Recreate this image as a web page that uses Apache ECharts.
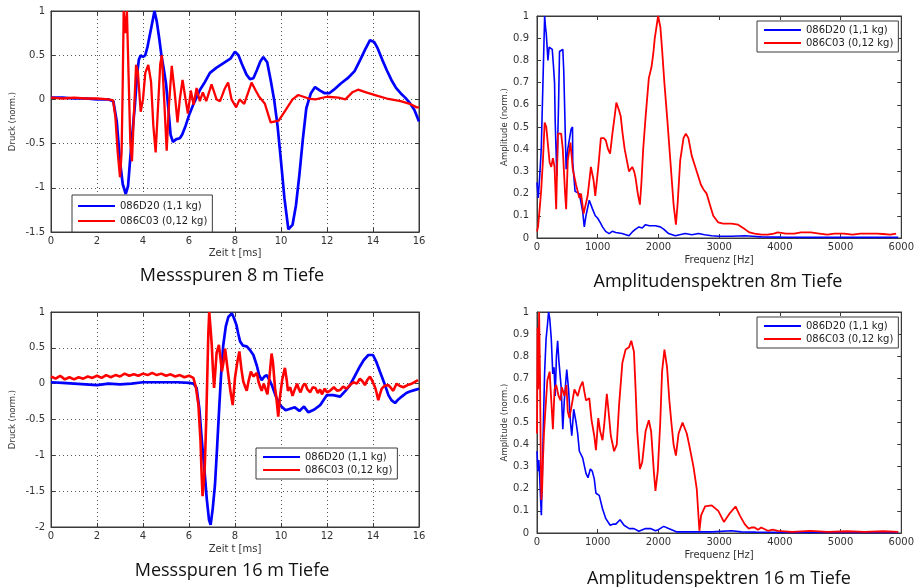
<!DOCTYPE html>
<html>
<head>
<meta charset="utf-8">
<script src="https://cdn.jsdelivr.net/npm/echarts@6/dist/echarts.min.js"></script>
<style>html,body{margin:0;padding:0;background:#fff}#c{width:917px;height:587px}</style>
</head>
<body>
<div id="c"></div>
<script>
// ---------- DATA ----------
const seriesNames = ['086D20 (1,1 kg)', '086C03 (0,12 kg)'];
const panelTitles = ['Messspuren 8 m Tiefe', 'Amplitudenspektren 8m Tiefe', 'Messspuren 16 m Tiefe', 'Amplitudenspektren 16 m Tiefe'];
const timeAxisName = 'Zeit t [ms]';
const freqAxisName = 'Frequenz [Hz]';
const pressureAxisName = 'Druck (norm.)';
const amplitudeAxisName = 'Amplitude (norm.)';

// Messspuren 8 m: [t (ms), Druck]
const trace8Blue = [[0,0.02],[0.5,0.02],[1,0.01],[1.5,0.01],[2,0.0],[2.5,0.0],[2.71,-0.02],[2.86,-0.25],[3.0,-0.7],[3.12,-0.96],[3.25,-1.07],[3.35,-0.98],[3.45,-0.65],[3.55,-0.35],[3.65,-0.06],[3.75,0.3],[3.82,0.45],[3.9,0.5],[4.0,0.48],[4.1,0.5],[4.2,0.6],[4.35,0.8],[4.5,1.0],[4.6,0.88],[4.7,0.7],[4.8,0.5],[4.9,0.35],[5.0,0.18],[5.1,-0.1],[5.2,-0.4],[5.3,-0.48],[5.45,-0.45],[5.6,-0.44],[5.7,-0.4],[5.85,-0.3],[6.0,-0.18],[6.2,-0.05],[6.48,0.11],[6.7,0.2],[6.91,0.3],[7.2,0.36],[7.5,0.41],[7.8,0.46],[8.0,0.54],[8.15,0.5],[8.3,0.4],[8.5,0.28],[8.65,0.23],[8.8,0.24],[8.95,0.33],[9.1,0.43],[9.23,0.48],[9.4,0.42],[9.55,0.22],[9.7,0.0],[9.85,-0.3],[10.0,-0.7],[10.15,-1.12],[10.32,-1.47],[10.5,-1.42],[10.65,-1.2],[10.8,-0.85],[10.95,-0.45],[11.1,-0.1],[11.3,0.07],[11.48,0.14],[11.7,0.1],[11.9,0.07],[12.1,0.07],[12.3,0.11],[12.6,0.18],[12.9,0.24],[13.2,0.32],[13.45,0.45],[13.65,0.56],[13.87,0.67],[14.05,0.65],[14.2,0.58],[14.4,0.45],[14.6,0.33],[14.8,0.22],[15.0,0.13],[15.2,0.07],[15.4,0.02],[15.6,-0.04],[15.8,-0.12],[16,-0.25]];
const trace8Red = [[0,0.02],[0.5,0.01],[1,0.02],[1.5,0.01],[2,0.01],[2.5,0.0],[2.7,-0.01],[2.8,-0.2],[2.9,-0.6],[3.0,-0.88],[3.07,-0.6],[3.12,0.2],[3.16,1.0],[3.22,0.75],[3.3,1.0],[3.37,0.3],[3.45,-0.5],[3.52,-0.7],[3.6,-0.2],[3.7,0.39],[3.78,0.3],[3.9,-0.14],[4.0,0.0],[4.1,0.3],[4.23,0.39],[4.35,0.2],[4.45,-0.3],[4.55,-0.6],[4.65,-0.1],[4.75,0.4],[4.82,0.5],[4.92,0.0],[5.03,-0.58],[5.12,-0.1],[5.25,0.38],[5.37,0.1],[5.5,-0.26],[5.6,0.0],[5.72,0.22],[5.85,0.0],[5.95,-0.16],[6.08,0.1],[6.2,-0.06],[6.33,0.13],[6.47,-0.02],[6.6,0.08],[6.75,-0.02],[6.98,0.17],[7.2,0.0],[7.35,-0.02],[7.55,0.12],[7.7,0.19],[7.85,0.0],[8.05,-0.09],[8.2,0.0],[8.4,-0.05],[8.6,0.1],[8.72,0.19],[8.9,0.1],[9.05,0.03],[9.3,-0.05],[9.55,-0.26],[9.9,-0.24],[10.2,-0.12],[10.5,0.0],[10.75,0.05],[11.2,0.01],[11.5,0.0],[12,0.03],[12.5,0.02],[12.8,0.0],[13.1,0.08],[13.35,0.11],[13.7,0.08],[14.2,0.04],[14.6,0.01],[15.2,-0.02],[15.6,-0.05],[15.9,-0.09],[16,-0.09]];

// Amplitudenspektren 8 m: [f (Hz), Amplitude]
const spec8Blue = [[0,0.25],[20,0.18],[45,0.28],[70,0.4],[98,0.7],[126,1.0],[140,0.95],[153,0.92],[180,0.8],[200,0.86],[218,0.86],[251,0.85],[270,0.78],[289,0.7],[300,0.52],[327,0.28],[355,0.6],[371,0.84],[425,0.85],[441,0.75],[480,0.31],[507,0.4],[562,0.49],[585,0.5],[589,0.34],[627,0.21],[697,0.2],[752,0.12],[779,0.05],[806,0.1],[861,0.17],[915,0.13],[960,0.1],[997,0.09],[1040,0.07],[1079,0.05],[1130,0.03],[1188,0.02],[1240,0.03],[1297,0.025],[1400,0.02],[1515,0.01],[1580,0.03],[1624,0.04],[1680,0.05],[1733,0.045],[1787,0.06],[1850,0.055],[1950,0.055],[2030,0.05],[2086,0.04],[2168,0.02],[2277,0.01],[2350,0.015],[2440,0.02],[2550,0.015],[2658,0.02],[2760,0.015],[2876,0.01],[3000,0.008],[3200,0.008],[3421,0.01],[3550,0.008],[3693,0.005],[4000,0.004],[4500,0.003],[5000,0.003],[5500,0.003],[5950,0.003]];
const spec8Red = [[0,0.03],[17,0.05],[50,0.15],[70,0.22],[98,0.35],[126,0.52],[153,0.5],[180,0.42],[208,0.34],[235,0.32],[262,0.36],[289,0.32],[316,0.13],[344,0.47],[398,0.47],[425,0.4],[463,0.2],[480,0.13],[507,0.35],[551,0.43],[589,0.31],[643,0.24],[698,0.18],[725,0.2],[768,0.11],[834,0.19],[888,0.32],[932,0.26],[960,0.19],[1010,0.32],[1052,0.45],[1100,0.45],[1133,0.44],[1170,0.4],[1204,0.38],[1242,0.47],[1280,0.55],[1307,0.61],[1345,0.58],[1378,0.55],[1410,0.47],[1444,0.4],[1480,0.35],[1515,0.3],[1569,0.32],[1600,0.3],[1624,0.27],[1660,0.2],[1695,0.15],[1720,0.25],[1749,0.4],[1790,0.55],[1842,0.72],[1886,0.77],[1915,0.83],[1940,0.9],[1995,1.0],[2032,0.95],[2060,0.85],[2098,0.7],[2150,0.52],[2196,0.35],[2250,0.15],[2288,0.06],[2315,0.15],[2359,0.35],[2413,0.45],[2451,0.47],[2494,0.45],[2549,0.37],[2631,0.3],[2700,0.24],[2740,0.22],[2794,0.2],[2848,0.15],[2903,0.1],[2985,0.07],[3066,0.065],[3203,0.065],[3312,0.06],[3421,0.04],[3500,0.025],[3584,0.02],[3700,0.015],[3802,0.015],[3900,0.02],[3965,0.025],[4100,0.02],[4237,0.02],[4350,0.025],[4510,0.025],[4650,0.02],[4782,0.015],[4900,0.02],[5054,0.02],[5200,0.015],[5327,0.02],[5450,0.02],[5599,0.02],[5700,0.018],[5817,0.015],[5915,0.02]];

// Messspuren 16 m
const trace16Blue = [[0,0.02],[0.5,0.01],[1,0.0],[1.5,-0.01],[2,-0.02],[2.5,0.0],[3,-0.01],[3.5,0.0],[4,0.02],[4.5,0.02],[5,0.02],[5.5,0.02],[6,0.01],[6.2,0.0],[6.33,-0.06],[6.45,-0.35],[6.55,-0.76],[6.67,-1.2],[6.77,-1.6],[6.87,-1.9],[6.94,-1.97],[7.03,-1.75],[7.13,-1.41],[7.22,-0.9],[7.32,-0.3],[7.4,0.15],[7.49,0.54],[7.6,0.8],[7.71,0.93],[7.86,0.98],[7.95,0.92],[8.06,0.82],[8.14,0.7],[8.22,0.59],[8.35,0.53],[8.51,0.52],[8.65,0.47],[8.8,0.4],[8.95,0.25],[9.05,0.12],[9.16,0.05],[9.28,0.1],[9.38,0.12],[9.5,0.05],[9.6,-0.02],[9.78,-0.18],[9.96,-0.3],[10.2,-0.37],[10.4,-0.35],[10.6,-0.33],[10.8,-0.38],[11.0,-0.32],[11.19,-0.4],[11.45,-0.36],[11.7,-0.3],[11.99,-0.16],[12.27,-0.16],[12.57,-0.18],[12.8,-0.1],[13.0,-0.02],[13.2,0.1],[13.43,0.24],[13.6,0.33],[13.8,0.4],[14.0,0.4],[14.15,0.3],[14.3,0.17],[14.5,0.0],[14.67,-0.16],[14.8,-0.23],[14.96,-0.27],[15.1,-0.22],[15.25,-0.18],[15.45,-0.13],[15.6,-0.11],[15.8,-0.09],[16,-0.07]];
const trace16Red = [[0,0.1],[0.2,0.07],[0.4,0.11],[0.6,0.06],[0.8,0.09],[1.0,0.06],[1.2,0.09],[1.4,0.07],[1.6,0.1],[1.8,0.08],[2.0,0.11],[2.2,0.08],[2.4,0.12],[2.6,0.09],[2.8,0.12],[3.0,0.1],[3.2,0.14],[3.4,0.11],[3.6,0.13],[3.8,0.11],[4.0,0.14],[4.2,0.12],[4.4,0.15],[4.6,0.12],[4.8,0.14],[5.0,0.11],[5.2,0.13],[5.4,0.1],[5.6,0.12],[5.8,0.09],[6.0,0.11],[6.19,0.08],[6.3,-0.05],[6.41,-0.3],[6.5,-0.8],[6.55,-1.27],[6.59,-1.57],[6.64,-1.4],[6.69,-1.12],[6.75,-0.5],[6.8,0.17],[6.84,0.7],[6.88,1.0],[6.93,0.8],[6.99,0.54],[7.04,0.2],[7.09,-0.06],[7.15,0.2],[7.2,0.43],[7.3,0.54],[7.37,0.35],[7.43,0.17],[7.5,0.3],[7.57,0.49],[7.64,0.3],[7.71,0.12],[7.8,-0.1],[7.9,-0.3],[8.0,0.08],[8.1,0.3],[8.19,0.45],[8.28,0.2],[8.36,0.03],[8.45,-0.05],[8.51,-0.1],[8.6,0.05],[8.69,0.17],[8.8,0.1],[8.88,0.1],[8.95,0.15],[9.02,0.03],[9.1,-0.05],[9.16,-0.1],[9.25,0.0],[9.31,-0.02],[9.41,-0.15],[9.5,0.1],[9.59,0.42],[9.65,0.3],[9.74,-0.06],[9.8,-0.2],[9.88,-0.46],[9.95,-0.2],[10.05,0.05],[10.17,0.22],[10.25,0.05],[10.3,-0.1],[10.4,-0.05],[10.5,-0.17],[10.6,-0.08],[10.7,0.0],[10.78,-0.08],[10.85,-0.12],[10.95,-0.03],[11.05,0.0],[11.15,-0.08],[11.27,-0.12],[11.38,-0.05],[11.5,-0.06],[11.6,-0.13],[11.7,-0.08],[11.78,-0.15],[11.9,-0.07],[12.0,-0.12],[12.13,-0.1],[12.3,-0.05],[12.45,-0.1],[12.57,-0.09],[12.7,-0.04],[12.85,-0.07],[13.0,-0.02],[13.15,0.02],[13.3,0.0],[13.43,0.07],[13.55,0.03],[13.65,-0.02],[13.75,0.05],[13.87,0.1],[13.95,0.05],[14.09,-0.05],[14.15,-0.12],[14.23,-0.23],[14.3,-0.15],[14.38,-0.07],[14.5,-0.03],[14.67,-0.02],[14.78,-0.06],[14.88,-0.1],[14.95,-0.05],[15.03,0.0],[15.15,-0.03],[15.32,-0.05],[15.5,-0.02],[15.68,0.0],[15.8,0.02],[15.96,0.05]];

// Amplitudenspektren 16 m
const spec16Blue = [[0,0.37],[15,0.28],[30,0.33],[45,0.25],[60,0.15],[72,0.08],[90,0.3],[110,0.55],[126,0.73],[150,0.88],[175,0.95],[191,1.0],[210,0.97],[235,0.88],[260,0.72],[280,0.75],[300,0.62],[320,0.8],[340,0.87],[360,0.78],[398,0.66],[425,0.47],[450,0.6],[490,0.74],[520,0.65],[551,0.5],[573,0.44],[605,0.56],[644,0.5],[670,0.45],[698,0.37],[752,0.34],[807,0.27],[840,0.25],[878,0.29],[910,0.28],[943,0.245],[971,0.18],[1025,0.17],[1079,0.11],[1134,0.065],[1205,0.035],[1250,0.04],[1298,0.04],[1368,0.06],[1434,0.035],[1520,0.02],[1597,0.02],[1678,0.008],[1788,0.02],[1870,0.02],[1951,0.01],[2000,0.015],[2087,0.03],[2168,0.02],[2305,0.005],[2550,0.005],[2877,0.005],[3204,0.01],[3367,0.005],[3600,0.004],[4000,0.003],[4500,0.003],[5000,0.003],[5500,0.003],[5950,0.003]];
const spec16Red = [[0,0.45],[10,0.93],[20,0.65],[35,1.0],[50,0.7],[62,0.35],[72,0.15],[85,0.2],[98,0.33],[115,0.45],[137,0.55],[170,0.69],[208,0.73],[235,0.6],[262,0.47],[289,0.65],[316,0.67],[355,0.62],[387,0.6],[409,0.66],[452,0.62],[485,0.67],[507,0.55],[534,0.52],[573,0.58],[616,0.65],[671,0.62],[710,0.66],[752,0.685],[780,0.64],[807,0.6],[861,0.61],[899,0.51],[943,0.44],[971,0.375],[1009,0.52],[1041,0.46],[1079,0.42],[1107,0.49],[1150,0.63],[1172,0.57],[1216,0.44],[1270,0.37],[1314,0.4],[1352,0.58],[1406,0.77],[1460,0.83],[1515,0.84],[1553,0.87],[1597,0.82],[1624,0.65],[1651,0.46],[1695,0.29],[1733,0.32],[1788,0.46],[1842,0.51],[1880,0.46],[1924,0.28],[1951,0.19],[1989,0.28],[2030,0.5],[2060,0.73],[2099,0.83],[2142,0.75],[2180,0.6],[2213,0.5],[2250,0.4],[2288,0.35],[2332,0.45],[2397,0.5],[2467,0.45],[2506,0.4],[2577,0.3],[2631,0.2],[2675,0.01],[2703,0.08],[2768,0.12],[2877,0.125],[2986,0.1],[3079,0.05],[3177,0.09],[3270,0.12],[3340,0.08],[3421,0.04],[3487,0.02],[3540,0.025],[3584,0.025],[3640,0.015],[3693,0.025],[3802,0.01],[3884,0.015],[3966,0.01],[4200,0.005],[4500,0.01],[4800,0.005],[5100,0.008],[5400,0.005],[5700,0.008],[5950,0.005]];

// Axis ranges / ticks
const timeRange = {min: 0, max: 16, interval: 2};
const press8Range = {min: -1.5, max: 1, interval: 0.5};
const press16Range = {min: -2, max: 1, interval: 0.5};
const freqRange = {min: 0, max: 6000, interval: 1000};
const ampRange = {min: 0, max: 1, interval: 0.1};

// ---------- CHART ----------
const FONT = 'DejaVu Sans';
const AX = '#3a3a3a';
const BLUE = '#0000ff', RED = '#ff0000';
const plainNum = v => String(Math.round(v * 1000) / 1000);

const panels = [
  {grid:{left:51, top:11, width:368, height:221}, x:timeRange, y:press8Range, xName:timeAxisName, yName:pressureAxisName, data:[trace8Blue, trace8Red], dotted:true, lw:[2.7,2.3], xGap:16, yGap:34, yLabMargin:6,
   legend:{left:72, top:195, padding:[5,5,5,6], itemGap:3}, title:{x:232, y:276, text:panelTitles[0]}},
  {grid:{left:537, top:16, width:367, height:222}, x:freqRange, y:ampRange, xName:freqAxisName, yName:amplitudeAxisName, data:[spec8Blue, spec8Red], dotted:false, lw:[1.6,1.8], xGap:17, yGap:28, yLabMargin:8,
   legend:{left:757, top:21, padding:[3,5,3,7], itemGap:1}, title:{x:718, y:282, text:panelTitles[1]}},
  {grid:{left:51, top:312, width:368, height:215}, x:timeRange, y:press16Range, xName:timeAxisName, yName:pressureAxisName, data:[trace16Blue, trace16Red], dotted:true, lw:[2.7,2.6], xGap:17, yGap:34, yLabMargin:6,
   legend:{left:256, top:448, padding:[3,5,3,7], itemGap:1}, title:{x:232, y:571, text:panelTitles[2]}},
  {grid:{left:537, top:312, width:367, height:221}, x:freqRange, y:ampRange, xName:freqAxisName, yName:amplitudeAxisName, data:[spec16Blue, spec16Red], dotted:false, lw:[1.6,1.8], xGap:17, yGap:28, yLabMargin:8,
   legend:{left:757, top:317, padding:[3,5,3,7], itemGap:1}, title:{x:719, y:579, text:panelTitles[3]}}
];

const grids = [], xAxes = [], yAxes = [], series = [], legends = [], graphics = [];
panels.forEach((p, i) => {
  grids.push(Object.assign({show:true, borderColor:AX, borderWidth:1, containLabel:false}, p.grid));
  const tick = {show:true, inside:true, length:4, lineStyle:{color:AX, width:1}};
  const split = {show:p.dotted, lineStyle:{type:[1,3], color:'#555', width:1}};
  xAxes.push({type:'value', gridIndex:i, position:'bottom', min:p.x.min, max:p.x.max, interval:p.x.interval,
    axisLine:{show:true, onZero:false, lineStyle:{color:AX}}, axisTick:tick, splitLine:split,
    axisLabel:{fontFamily:FONT, fontSize:10, color:'#333', margin:4, formatter:plainNum},
    name:p.xName, nameLocation:'middle', nameGap:p.xGap, nameTextStyle:{fontFamily:FONT, fontSize:10, color:'#333'}});
  xAxes.push({type:'value', gridIndex:i, position:'top', min:p.x.min, max:p.x.max, interval:p.x.interval,
    axisLine:{show:true, onZero:false, lineStyle:{color:AX}}, axisTick:tick, splitLine:{show:false}, axisLabel:{show:false}});
  yAxes.push({type:'value', gridIndex:i, position:'left', min:p.y.min, max:p.y.max, interval:p.y.interval,
    axisLine:{show:true, onZero:false, lineStyle:{color:AX}}, axisTick:tick, splitLine:split,
    axisLabel:{fontFamily:FONT, fontSize:10, color:'#333', margin:p.yLabMargin, formatter:plainNum},
    name:p.yName, nameLocation:'middle', nameGap:p.yGap, nameTextStyle:{fontFamily:FONT, fontSize:8.5, color:'#333'}});
  yAxes.push({type:'value', gridIndex:i, position:'right', min:p.y.min, max:p.y.max, interval:p.y.interval,
    axisLine:{show:true, onZero:false, lineStyle:{color:AX}}, axisTick:tick, splitLine:{show:false}, axisLabel:{show:false}});
  [BLUE, RED].forEach((c, k) => {
    series.push({type:'line', name:seriesNames[k], xAxisIndex:2*i, yAxisIndex:2*i, data:p.data[k],
      showSymbol:false, symbol:'none', clip:true, animation:false,
      lineStyle:{color:c, width:p.lw[k]}, itemStyle:{color:c}});
  });
  legends.push(Object.assign({orient:'vertical', data:seriesNames, icon:'rect', itemWidth:37, itemHeight:2,
    selectedMode:false, backgroundColor:'#fff', borderColor:AX, borderWidth:1,
    textStyle:{fontFamily:FONT, fontSize:10, color:'#222', lineHeight:12}}, p.legend));
  graphics.push({type:'text', x:p.title.x, y:p.title.y, style:{text:p.title.text, fontFamily:'Open Sans', fontSize:18, fill:'#111', align:'center', verticalAlign:'middle'}});
});

const chart = echarts.init(document.getElementById('c'), null, {renderer:'canvas'});
chart.setOption({
  animation:false,
  backgroundColor:'#fff',
  grid:grids, xAxis:xAxes, yAxis:yAxes, series:series, legend:legends, graphic:graphics
});
</script>
</body>
</html>
